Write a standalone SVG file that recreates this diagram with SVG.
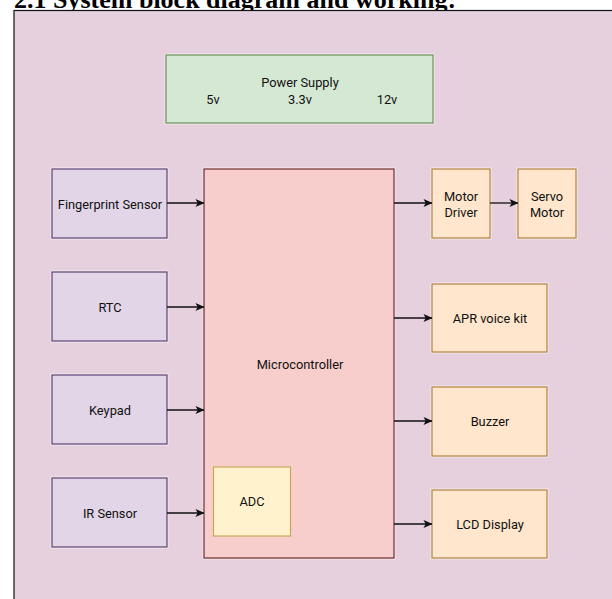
<svg xmlns="http://www.w3.org/2000/svg" width="612" height="599" viewBox="0 0 612 599">
<defs>
<style>
.t{font-family:Roboto,"Liberation Sans",Arial,sans-serif;font-size:12.8px;fill:#111;text-anchor:middle}
.title{font-family:"Liberation Serif","Times New Roman",serif;font-size:26px;font-weight:bold;fill:#000}
.halo{fill:none;stroke:#ffffff;stroke-opacity:0.55;stroke-width:3}
.purple{fill:#e1d5e7;stroke:#5e4275;stroke-width:1.2}
.orange{fill:#ffe6cc;stroke:#b3833f;stroke-width:1.2}
.micro{fill:#f8cecc;stroke:#6e2c2c;stroke-width:1.2}
.adc{fill:#fff2cc;stroke:#c9a85a;stroke-width:1.2}
.power{fill:#d5e8d4;stroke:#6b8f55;stroke-width:1.2}
.conn{stroke:#111;stroke-width:1.3;fill:none;marker-end:url(#arr)}
</style>
<marker id="arr" viewBox="0 0 10 10" refX="9.5" refY="5" markerWidth="9" markerHeight="9" markerUnits="userSpaceOnUse" orient="auto">
<path d="M0,0.5 L10,5 L0,9.5 L2.5,5 Z" fill="#111"/>
</marker>
</defs>
<rect x="0" y="0" width="612" height="599" fill="#ffffff"/>
<text class="title" x="14" y="8">2.1 System block diagram and working:</text>
<rect x="14" y="10.5" width="600" height="592" fill="#e6d0de" stroke="#111" stroke-width="1.2"/>

<g id="power">
<rect class="halo" x="166" y="55" width="267" height="68"/>
<rect class="power" x="166" y="55" width="267" height="68"/>
<text class="t" x="300" y="87">Power Supply</text>
<text class="t" x="213" y="104">5v</text>
<text class="t" x="300" y="104">3.3v</text>
<text class="t" x="387" y="104">12v</text>
</g>

<g id="microcontroller">
<rect class="halo" x="204" y="169" width="190" height="389"/>
<rect class="micro" x="204" y="169" width="190" height="389"/>
<text class="t" x="300" y="369">Microcontroller</text>
</g>

<g id="adc">
<rect class="adc" x="213.5" y="467" width="77" height="69"/>
<text class="t" x="252" y="506">ADC</text>
</g>

<g id="fingerprint">
<rect class="halo" x="52" y="169" width="115" height="69"/>
<rect class="purple" x="52" y="169" width="115" height="69"/>
<text class="t" x="110" y="209">Fingerprint Sensor</text>
</g>
<g id="rtc">
<rect class="halo" x="52" y="272" width="115" height="69"/>
<rect class="purple" x="52" y="272" width="115" height="69"/>
<text class="t" x="110" y="312">RTC</text>
</g>
<g id="keypad">
<rect class="halo" x="52" y="375" width="115" height="69"/>
<rect class="purple" x="52" y="375" width="115" height="69"/>
<text class="t" x="110" y="415">Keypad</text>
</g>
<g id="ir">
<rect class="halo" x="52" y="478" width="115" height="69"/>
<rect class="purple" x="52" y="478" width="115" height="69"/>
<text class="t" x="110" y="518">IR Sensor</text>
</g>

<g id="motordriver">
<rect class="halo" x="432" y="169" width="58" height="69"/>
<rect class="orange" x="432" y="169" width="58" height="69"/>
<text class="t" x="461" y="201">Motor</text>
<text class="t" x="461" y="217">Driver</text>
</g>
<g id="servo">
<rect class="halo" x="518" y="169" width="58" height="69"/>
<rect class="orange" x="518" y="169" width="58" height="69"/>
<text class="t" x="547" y="201">Servo</text>
<text class="t" x="547" y="217">Motor</text>
</g>
<g id="apr">
<rect class="halo" x="432" y="284" width="115" height="68"/>
<rect class="orange" x="432" y="284" width="115" height="68"/>
<text class="t" x="490" y="323">APR voice kit</text>
</g>
<g id="buzzer">
<rect class="halo" x="432" y="387" width="115" height="69"/>
<rect class="orange" x="432" y="387" width="115" height="69"/>
<text class="t" x="490" y="426">Buzzer</text>
</g>
<g id="lcd">
<rect class="halo" x="432" y="490" width="115" height="68"/>
<rect class="orange" x="432" y="490" width="115" height="68"/>
<text class="t" x="490" y="529">LCD Display</text>
</g>

<g id="connectors">
<path class="conn" d="M167,203 H204"/>
<path class="conn" d="M167,307 H204"/>
<path class="conn" d="M167,410 H204"/>
<path class="conn" d="M167,513 H204"/>
<path class="conn" d="M394,203 H432"/>
<path class="conn" d="M490,203 H518"/>
<path class="conn" d="M394,318 H432"/>
<path class="conn" d="M394,421 H432"/>
<path class="conn" d="M394,524 H432"/>
</g>
</svg>
